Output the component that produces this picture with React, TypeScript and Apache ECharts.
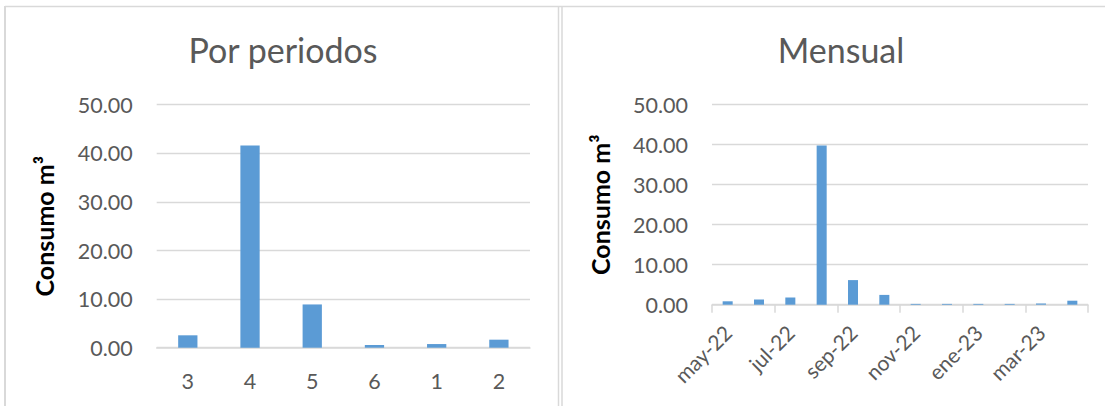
import React, { useEffect, useRef } from "react";
import * as echarts from "echarts";

const periodCategories = ["3", "4", "5", "6", "1", "2"];
const periodValues = [2.55, 41.6, 8.9, 0.55, 0.75, 1.65];

const monthCategories = [
  "may-22", "jun-22", "jul-22", "ago-22", "sep-22", "oct-22",
  "nov-22", "dic-22", "ene-23", "feb-23", "mar-23", "abr-23",
];
const monthValues = [0.85, 1.3, 1.8, 39.8, 6.15, 2.45, 0.2, 0.2, 0.2, 0.2, 0.3, 1.0];

const yTicks = { min: 0, max: 50, interval: 10 };

const FONT = "Lato, 'Open Sans', sans-serif";
const TEXT = "#595959";
const GRID = "#d9d9d9";
const BAR = "#5b9bd5";

export default function App() {
  const ref = useRef<HTMLDivElement>(null);
  useEffect(() => {
    if (!ref.current) return;
    const chart = echarts.init(ref.current, null, { renderer: "svg" });
    const yAxisCommon = (idx: number) => ({
      type: "value",
      gridIndex: idx,
      min: yTicks.min,
      max: yTicks.max,
      interval: yTicks.interval,
      name: "Consumo m³",
      nameLocation: "middle",
      nameRotate: 90,
      nameGap: 100,
      nameTextStyle: { fontFamily: FONT, fontSize: 25, fontWeight: "bold", color: "#000" },
      axisLine: { show: false },
      axisTick: { show: false },
      axisLabel: {
        fontFamily: FONT,
        fontSize: 21.5,
        color: TEXT,
        margin: 24,
        formatter: (v: number) => v.toFixed(2),
      },
      splitLine: { lineStyle: { color: GRID, width: 1.3 } },
    });
    chart.setOption({
      animation: false,
      title: [
        {
          text: "Por periodos",
          left: 278,
          top: 27,
          textAlign: "center",
          textStyle: { fontFamily: FONT, fontSize: 34, fontWeight: "normal", color: TEXT },
        },
        {
          text: "Mensual",
          left: 836,
          top: 27,
          textAlign: "center",
          textStyle: { fontFamily: FONT, fontSize: 34, fontWeight: "normal", color: TEXT },
        },
      ],
      graphic: [
        { type: "line", shape: { x1: 5, y1: 6.5, x2: 1105, y2: 6.5 }, style: { stroke: GRID, lineWidth: 1.5 } },
        { type: "line", shape: { x1: 5, y1: 6, x2: 5, y2: 406 }, style: { stroke: GRID, lineWidth: 2 } },
        { type: "line", shape: { x1: 558.5, y1: 6, x2: 558.5, y2: 406 }, style: { stroke: GRID, lineWidth: 1.5 } },
        { type: "line", shape: { x1: 562, y1: 6, x2: 562, y2: 406 }, style: { stroke: GRID, lineWidth: 1.5 } },
      ],
      grid: [
        { left: 156.7, right: 575, top: 104.7, bottom: 58.3 },
        { left: 712, right: 17, top: 104.7, bottom: 101.3 },
      ],
      xAxis: [
        {
          type: "category",
          gridIndex: 0,
          data: periodCategories,
          axisLine: { lineStyle: { color: GRID, width: 1.5 } },
          axisTick: { show: false },
          axisLabel: { fontFamily: FONT, fontSize: 21.5, color: TEXT, margin: 22 },
        },
        {
          type: "category",
          gridIndex: 1,
          data: monthCategories,
          axisLine: { lineStyle: { color: GRID, width: 1.5 } },
          axisTick: { show: true, interval: 1, length: 8, lineStyle: { color: GRID, width: 1.5 } },
          axisLabel: {
            interval: 1,
            rotate: 45,
            fontFamily: FONT,
            fontSize: 21,
            color: TEXT,
            margin: 24,
          },
        },
      ],
      yAxis: [yAxisCommon(0), yAxisCommon(1)],
      series: [
        {
          type: "bar",
          xAxisIndex: 0,
          yAxisIndex: 0,
          data: periodValues,
          barWidth: "31%",
          itemStyle: { color: BAR },
        },
        {
          type: "bar",
          xAxisIndex: 1,
          yAxisIndex: 1,
          data: monthValues,
          barWidth: "32%",
          itemStyle: { color: BAR },
        },
      ],
    });
    return () => chart.dispose();
  }, []);
  return (
    <div
      ref={ref}
      style={{ position: "fixed", left: 0, top: 0, width: 1105, height: 406, background: "#fff" }}
    />
  );
}
